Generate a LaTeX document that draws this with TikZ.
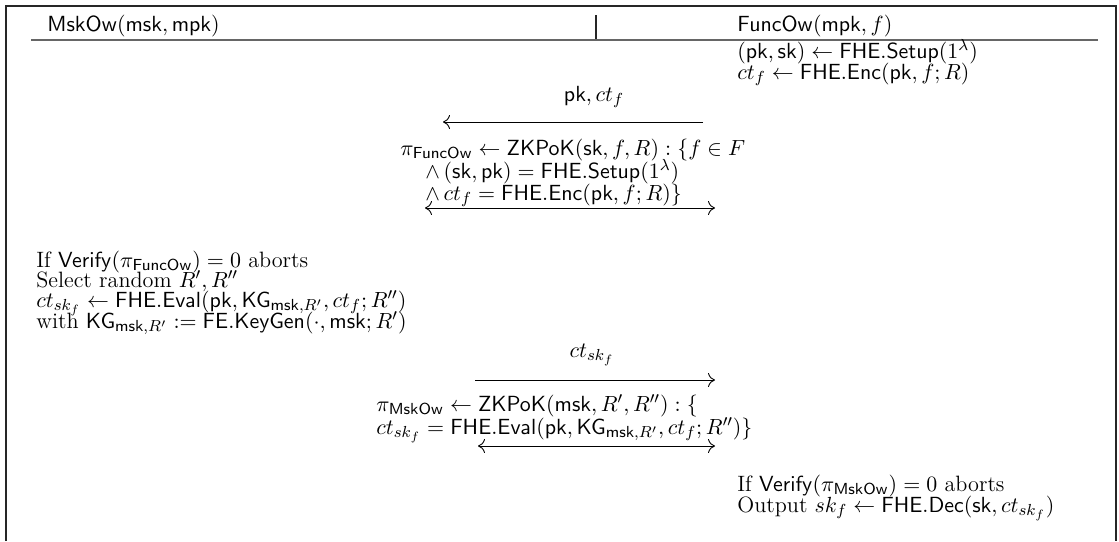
\documentclass[tikz,border=0pt]{standalone}
\usepackage{amsmath,amssymb}
\usetikzlibrary{arrows.meta, positioning}

\newcommand{\alg}[1]{\mathsf{#1}}

\begin{document}
\begin{tikzpicture}[x=0.5pt, y=-0.5pt,
    txt/.style={inner sep=0pt, anchor=base west, font=\fontsize{11.1pt}{13pt}\selectfont},
    head/.style={txt, font=\fontsize{10.6pt}{13pt}\selectfont},
    msgtext/.style={txt, anchor=base},
    msg/.style={-{To[length=3.5pt,width=7pt]}, line width=0.45pt},
    dmsg/.style={{To[length=3.5pt,width=7pt]}-{To[length=3.5pt,width=7pt]}, line width=0.45pt},
    frame/.style={line width=0.8pt, draw=black!85},
    rule/.style={line width=1pt, draw=black!60}
  ]
  \useasboundingbox (0,0) rectangle (1119,541);
  \draw[frame] (6,541) -- (6,6) -- (1116,6) -- (1116,541);

  % header
  \node[head] (hmsk) at (47,31) {$\alg{MskOw}(\alg{msk},\alg{mpk})$};
  \node[head] (hfunc) at (737,31) {$\alg{FuncOw}(\alg{mpk}, f)$};
  \coordinate (sepT) at (596,15);
  \coordinate (sepB) at (596,40);
  \draw[frame] (sepT) -- (sepB);
  \coordinate (ruleL) at (31,40);
  \coordinate (ruleR) at (1098,40);
  \draw[rule] (ruleL) -- (ruleR);

  % FuncOw: setup
  \node[txt] (setup) at (737,58) {$(\alg{pk},\alg{sk}) \leftarrow \alg{FHE.Setup}(1^\lambda)$};
  \node[txt] (enc) at (737,79) {$ct_f \leftarrow \alg{FHE.Enc}(\alg{pk}, f; R)$};

  % first message
  \node[msgtext] (m1) at (594,101) {$\alg{pk}, ct_f$};
  \coordinate (m1R) at (703,122);
  \coordinate (m1L) at (443,122);
  \draw[msg] (m1R) -- (m1L);

  % proof of FuncOw
  \node[txt] (pf1) at (400,155) {$\pi_{\alg{FuncOw}} \leftarrow \alg{ZKPoK}(\alg{sk}, f, R) : \{f \in F$};
  \node[txt] (pf2) at (425,178) {$\land\, (\alg{sk},\alg{pk}) = \alg{FHE.Setup}(1^\lambda)$};
  \node[txt] (pf3) at (425,200) {$\land\, ct_f = \alg{FHE.Enc}(\alg{pk}, f; R)\}$};
  \coordinate (p1L) at (425,208);
  \coordinate (p1R) at (715,208);
  \draw[dmsg] (p1L) -- (p1R);

  % MskOw: evaluation
  \node[txt] (ver1) at (36,267) {If $\alg{Verify}(\pi_{\alg{FuncOw}}) = 0$ aborts};
  \node[txt] (rnd) at (36,287) {Select random $R', R''$};
  \node[txt] (eval) at (36,307) {$ct_{sk_f} \leftarrow \alg{FHE.Eval}(\alg{pk}, \alg{KG}_{\alg{msk},R'}, ct_f; R'')$};
  \node[txt] (kg) at (36,328) {with $\alg{KG}_{\alg{msk},R'} := \alg{FE.KeyGen}(\cdot, \alg{msk}; R')$};

  % second message
  \node[msgtext] (m2) at (592,357) {$ct_{sk_f}$};
  \coordinate (m2L) at (475,380);
  \coordinate (m2R) at (715,380);
  \draw[msg] (m2L) -- (m2R);

  % proof of MskOw
  \node[txt] (pm1) at (376,411) {$\pi_{\alg{MskOw}} \leftarrow \alg{ZKPoK}(\alg{msk}, R', R'') : \{$};
  \node[txt] (pm2) at (376,434) {$ct_{sk_f} = \alg{FHE.Eval}(\alg{pk}, \alg{KG}_{\alg{msk},R'}, ct_f; R'')\}$};
  \coordinate (p2L) at (478,446);
  \coordinate (p2R) at (715,446);
  \draw[dmsg] (p2L) -- (p2R);

  % FuncOw: output
  \node[txt] (ver2) at (737,491) {If $\alg{Verify}(\pi_{\alg{MskOw}}) = 0$ aborts};
  \node[txt] (out) at (737,512) {Output $sk_f \leftarrow \alg{FHE.Dec}(\alg{sk}, ct_{sk_f})$};
\end{tikzpicture}
\end{document}
